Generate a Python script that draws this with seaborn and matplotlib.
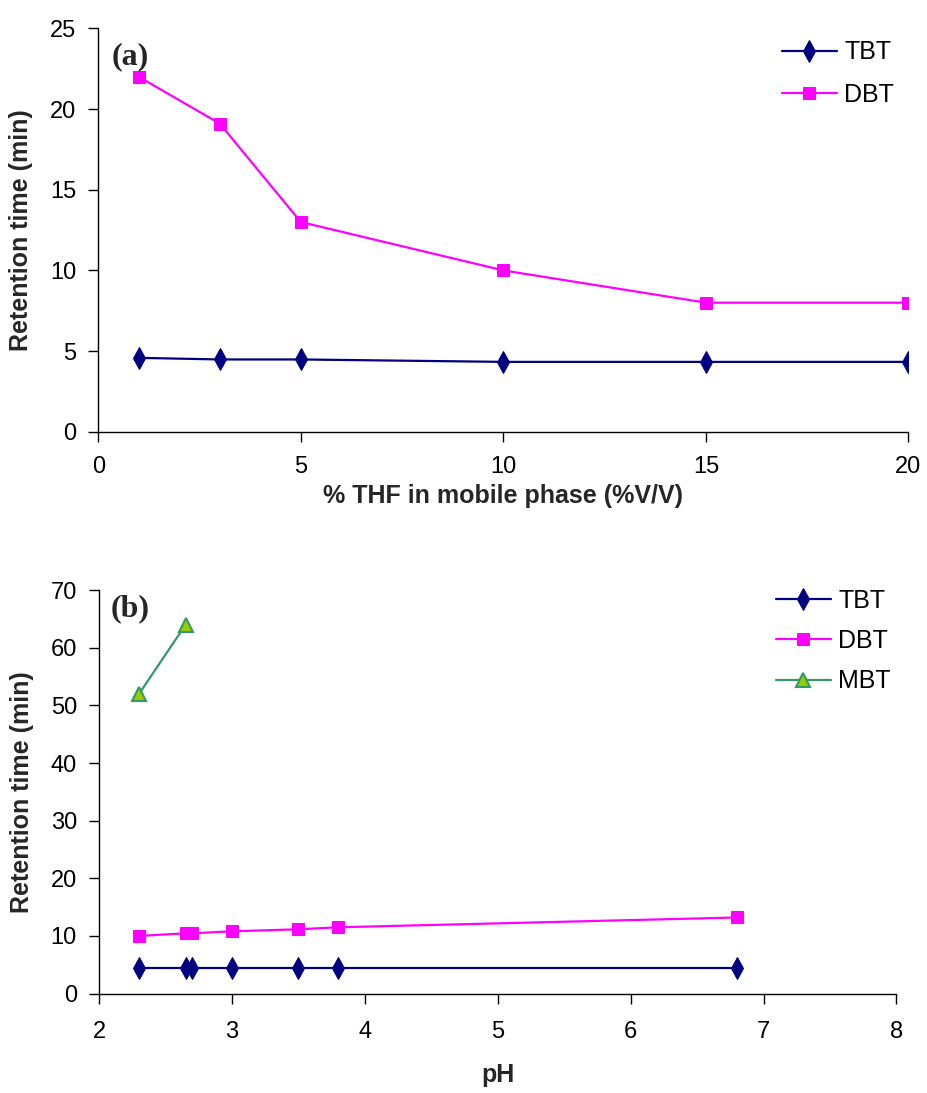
import matplotlib
matplotlib.use("Agg")
import matplotlib.pyplot as plt
import seaborn as sns
import pandas as pd

# ---- data: panel (a) ----
thf = [1, 3, 5, 10, 15, 20]
tbt_a = [4.58, 4.48, 4.48, 4.33, 4.33, 4.33]
dbt_a = [22.0, 19.1, 13.0, 10.0, 8.0, 8.0]

# ---- data: panel (b) ----
ph = [2.3, 2.65, 2.7, 3.0, 3.5, 3.8, 6.8]
tbt_b = [4.45, 4.45, 4.45, 4.45, 4.45, 4.45, 4.45]
dbt_b = [10.0, 10.45, 10.45, 10.8, 11.15, 11.5, 13.2]
ph_mbt = [2.3, 2.65]
mbt_b = [52.0, 64.0]

xticks_a = [0, 5, 10, 15, 20]
yticks_a = [0, 5, 10, 15, 20, 25]
xticks_b = [2, 3, 4, 5, 6, 7, 8]
yticks_b = [0, 10, 20, 30, 40, 50, 60, 70]

sns.set_theme(style="ticks")
plt.rcParams['font.family'] = ['Liberation Sans', 'DejaVu Sans']

NAVY = "#000080"
MAGENTA = "#FF00FF"
GREEN = "#339966"
YGREEN = "#99CC00"

fig = plt.figure(figsize=(9.27, 10.93), dpi=100)
ax1 = fig.add_axes([0.106, 0.605, 0.874, 0.369])
ax2 = fig.add_axes([0.107, 0.091, 0.860, 0.369])

tbt_style = dict(color=NAVY, marker='d', markersize=11, markeredgecolor=NAVY,
                 markerfacecolor=NAVY, linewidth=1.6)
dbt_style = dict(color=MAGENTA, marker='s', markersize=8, markeredgecolor=MAGENTA,
                 markerfacecolor=MAGENTA, linewidth=1.6)
mbt_style = dict(color=GREEN, marker='^', markersize=9.5, markeredgecolor=GREEN,
                 markerfacecolor=YGREEN, markeredgewidth=1.5, linewidth=1.6)

LABEL_FS = 18
TICK_FS = 17
LEG_FS = 18

# Panel (a)
df_a = pd.DataFrame({"x": thf, "TBT": tbt_a, "DBT": dbt_a})
sns.lineplot(data=df_a, x="x", y="TBT", ax=ax1, label="TBT", **tbt_style)
sns.lineplot(data=df_a, x="x", y="DBT", ax=ax1, label="DBT", **dbt_style)
ax1.set_xlim(0, 20)
ax1.set_ylim(0, 25)
ax1.set_xticks(xticks_a)
ax1.set_yticks(yticks_a)
ax1.set_xlabel("% THF in mobile phase (%V/V)", fontsize=LABEL_FS, fontweight="bold", labelpad=4)
ax1.set_ylabel("Retention time (min)", fontsize=LABEL_FS, fontweight="bold", labelpad=12)
ax1.text(0.017, 0.965, "(a)", transform=ax1.transAxes, fontsize=23, fontweight="bold",
         family=["Liberation Serif", "DejaVu Serif"], va="top", ha="left")
ax1.tick_params(axis='x', pad=10.5)

# Panel (b)
df_b = pd.DataFrame({"x": ph, "TBT": tbt_b, "DBT": dbt_b})
df_m = pd.DataFrame({"x": ph_mbt, "MBT": mbt_b})
sns.lineplot(data=df_b, x="x", y="TBT", ax=ax2, label="TBT", **tbt_style)
sns.lineplot(data=df_b, x="x", y="DBT", ax=ax2, label="DBT", **dbt_style)
sns.lineplot(data=df_m, x="x", y="MBT", ax=ax2, label="MBT", **mbt_style)
ax2.set_xlim(2, 8)
ax2.set_ylim(0, 70)
ax2.set_xticks(xticks_b)
ax2.set_yticks(yticks_b)
ax2.set_xlabel("pH", fontsize=LABEL_FS, fontweight="bold", labelpad=14)
ax2.set_ylabel("Retention time (min)", fontsize=LABEL_FS, fontweight="bold", labelpad=12)
ax2.text(0.014, 0.99, "(b)", transform=ax2.transAxes, fontsize=23, fontweight="bold",
         family=["Liberation Serif", "DejaVu Serif"], va="top", ha="left")
ax2.tick_params(axis='x', pad=13)

for ax in (ax1, ax2):
    sns.despine(ax=ax)
    ax.spines['left'].set_color('black')
    ax.spines['bottom'].set_color('black')
    ax.spines['left'].set_linewidth(1.0)
    ax.spines['bottom'].set_linewidth(1.0)
    ax.tick_params(axis='both', direction='out', length=7, width=1, colors='black',
                   labelsize=TICK_FS)
    ax.tick_params(axis='y', pad=9)

leg1 = ax1.legend(loc="upper left", bbox_to_anchor=(0.831, 0.995), borderaxespad=0,
                  frameon=False, fontsize=LEG_FS, handlelength=2.2,
                  labelspacing=0.75, handletextpad=0.3)
leg2 = ax2.legend(loc="upper left", bbox_to_anchor=(0.836, 1.028), borderaxespad=0,
                  frameon=False, fontsize=LEG_FS, handlelength=2.2,
                  labelspacing=0.65, handletextpad=0.3)
for leg in (leg1, leg2):
    for t in leg.get_texts():
        t.set_color('black')

fig.savefig("out.png", dpi=100, facecolor="white")
